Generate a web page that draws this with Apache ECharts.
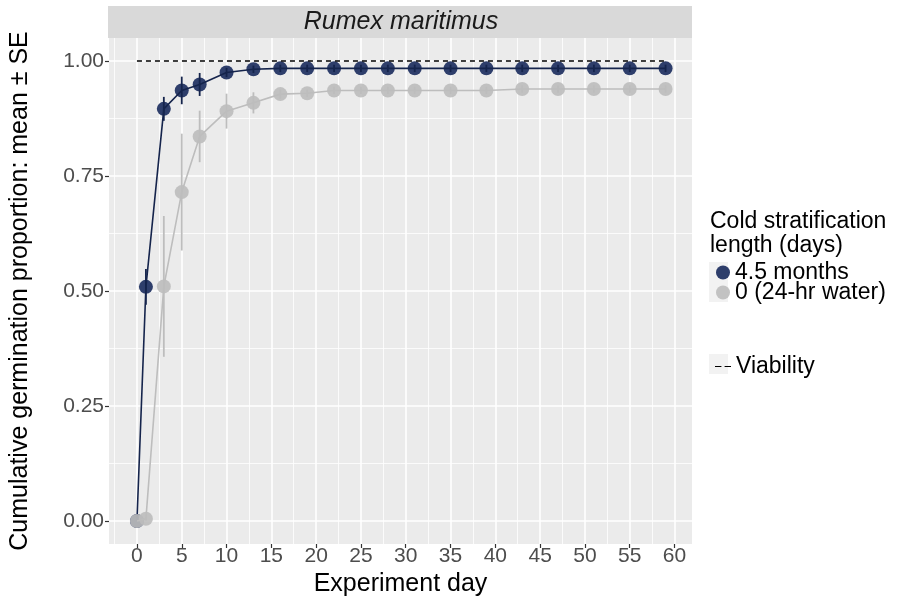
<!DOCTYPE html>
<html>
<head>
<meta charset="utf-8">
<script src="https://cdn.jsdelivr.net/npm/echarts@6/dist/echarts.min.js"></script>
<style>html,body{margin:0;padding:0;background:#fff}#c{width:904px;height:603px}</style>
</head>
<body>
<div id="c"></div>
<script>
// ---- data ----
const days      = [0, 1, 3, 5, 7, 10, 13, 16, 19, 22, 25, 28, 31, 35, 39, 43, 47, 51, 55, 59];
const coldMean  = [0, 0.509, 0.896, 0.936, 0.949, 0.975, 0.982, 0.984, 0.984, 0.984, 0.984, 0.984, 0.984, 0.984, 0.984, 0.984, 0.984, 0.984, 0.984, 0.984];
const coldSE    = [0, 0.039, 0.026, 0.030, 0.025, 0.010, 0.008, 0.008, 0.008, 0.008, 0.008, 0.008, 0.008, 0.008, 0.008, 0.008, 0.008, 0.008, 0.008, 0.008];
const waterMean = [0, 0.005, 0.510, 0.715, 0.836, 0.891, 0.909, 0.928, 0.930, 0.936, 0.936, 0.936, 0.936, 0.936, 0.936, 0.939, 0.939, 0.939, 0.939, 0.939];
const waterSE   = [0, 0.004, 0.153, 0.127, 0.056, 0.038, 0.023, 0.010, 0.008, 0.008, 0.008, 0.008, 0.008, 0.008, 0.008, 0.008, 0.008, 0.008, 0.008, 0.008];
const viabilityDays = [0, 59];
const viabilityVals = [1, 1];
const xTicks = [0, 5, 10, 15, 20, 25, 30, 35, 40, 45, 50, 55, 60];
const yTicks = [0, 0.25, 0.5, 0.75, 1.0];
const xMinor = [-2.5, 2.5, 7.5, 12.5, 17.5, 22.5, 27.5, 32.5, 37.5, 42.5, 47.5, 52.5, 57.5];
const yMinor = [0.125, 0.375, 0.625, 0.875];
const coldName = '4.5 months';
const waterName = '0 (24-hr water)';
const viabName = 'Viability';

const NAVY = '#1d2f5f', NAVY_D = '#15244c', GREY = '#bdbdbd';
const FONT = '"Liberation Sans", Arial, sans-serif';
const XMIN = -3.12, XMAX = 61.95, YMIN = -0.05, YMAX = 1.05;

const pts = (xs, ys) => xs.map((d, i) => [d, ys[i]]);
const errs = (m, s) => days.map((d, i) => [d, m[i] - s[i], m[i] + s[i]]);

function errRenderer(color) {
  return function (params, api) {
    const x = api.value(0);
    const p1 = api.coord([x, api.value(1)]);
    const p2 = api.coord([x, api.value(2)]);
    return { type: 'line', shape: { x1: p1[0], y1: p1[1], x2: p2[0], y2: p2[1] },
             style: { stroke: color, lineWidth: 1.8 } };
  };
}

const chart = echarts.init(document.getElementById('c'), null, { renderer: 'canvas' });
chart.setOption({
  animation: false,
  backgroundColor: '#ffffff',
  textStyle: { fontFamily: FONT },
  grid: { left: 108, right: 212, top: 38, bottom: 59, show: true, backgroundColor: '#ebebeb', borderWidth: 0 },
  graphic: [
    { type: 'rect', shape: { x: 108, y: 6, width: 584, height: 32 }, style: { fill: '#d9d9d9' }, silent: true },
    { type: 'text', x: 401, y: 22, style: { text: 'Rumex maritimus', fontFamily: FONT, fontStyle: 'italic', fontSize: 25, fill: '#1a1a1a', align: 'center', verticalAlign: 'middle' } },
    { type: 'text', x: 710, y: 210, style: { text: 'Cold stratification\nlength (days)', fontFamily: FONT, fontSize: 23, lineHeight: 24, fill: '#000', align: 'left', verticalAlign: 'top' } },
    { type: 'rect', shape: { x: 709, y: 262, width: 19, height: 40 }, style: { fill: '#f2f2f2' }, z: -1, silent: true },
    { type: 'rect', shape: { x: 709, y: 354, width: 19, height: 20 }, style: { fill: '#f2f2f2' }, z: -1, silent: true }
  ],
  legend: [
    { data: [coldName, waterName], orient: 'vertical', left: 711, top: 256, itemWidth: 14, itemHeight: 14, itemGap: -3, itemTextGap: 8,
      textStyle: { fontSize: 23, lineHeight: 20, color: '#000', fontFamily: FONT }, selectedMode: false },
    { data: [{ name: viabName, icon: 'path://M0,0h6v1h-6z M9,0h6v1h-6z', itemStyle: { color: '#000' } }],
      orient: 'vertical', left: 710, top: 350, itemWidth: 16, itemHeight: 1.4, itemTextGap: 7,
      textStyle: { fontSize: 23, lineHeight: 20, color: '#000', fontFamily: FONT }, selectedMode: false }
  ],
  xAxis: [
    { type: 'value', min: XMIN, max: XMAX, name: 'Experiment day', nameLocation: 'middle', nameGap: 28,
      nameTextStyle: { fontSize: 25, color: '#000', fontFamily: FONT },
      axisLine: { show: false, onZero: false },
      axisTick: { show: true, length: 4, lineStyle: { color: '#333', width: 1.2 }, customValues: xTicks },
      axisLabel: { customValues: xTicks, fontSize: 21, color: '#4d4d4d', margin: 2, fontFamily: FONT },
      splitLine: { show: true, lineStyle: { color: '#ffffff', width: 1.6 } } },
    { type: 'value', min: XMIN, max: XMAX, position: 'bottom',
      axisLine: { show: false, onZero: false }, axisTick: { show: false, customValues: xMinor },
      axisLabel: { show: false, customValues: xMinor },
      splitLine: { show: true, lineStyle: { color: '#ffffff', width: 0.8 } } }
  ],
  yAxis: [
    { type: 'value', min: YMIN, max: YMAX, name: 'Cumulative germination proportion: mean ± SE', nameLocation: 'middle', nameGap: 76,
      nameTextStyle: { fontSize: 25, color: '#000', fontFamily: FONT },
      axisLine: { show: false, onZero: false },
      axisTick: { show: true, length: 4, lineStyle: { color: '#333', width: 1.2 }, customValues: yTicks },
      axisLabel: { customValues: yTicks, fontSize: 21, color: '#4d4d4d', margin: 5, fontFamily: FONT, formatter: v => v.toFixed(2) },
      splitLine: { show: true, lineStyle: { color: '#ffffff', width: 1.6 } } },
    { type: 'value', min: YMIN, max: YMAX, position: 'left',
      axisLine: { show: false, onZero: false }, axisTick: { show: false, customValues: yMinor },
      axisLabel: { show: false, customValues: yMinor },
      splitLine: { show: true, lineStyle: { color: '#ffffff', width: 0.8 } } }
  ],
  series: [
    { name: coldName, type: 'scatter', data: pts(days, coldMean), symbol: 'circle', symbolSize: 14,
      itemStyle: { color: NAVY, opacity: 0.92 }, z: 3 },
    { name: coldName, type: 'line', data: pts(days, coldMean), showSymbol: false, symbol: 'none',
      lineStyle: { color: NAVY_D, width: 1.6 }, z: 4 },
    { name: coldName, type: 'custom', data: errs(coldMean, coldSE), renderItem: errRenderer(NAVY_D),
      encode: { x: 0, y: [1, 2] }, z: 4 },
    { name: waterName, type: 'scatter', data: pts(days, waterMean), symbol: 'circle', symbolSize: 14,
      itemStyle: { color: GREY, opacity: 0.9 }, z: 5 },
    { name: waterName, type: 'line', data: pts(days, waterMean), showSymbol: false, symbol: 'none',
      lineStyle: { color: GREY, width: 1.6 }, z: 5 },
    { name: waterName, type: 'custom', data: errs(waterMean, waterSE), renderItem: errRenderer(GREY),
      encode: { x: 0, y: [1, 2] }, z: 5 },
    { name: viabName, type: 'line', data: pts(viabilityDays, viabilityVals), symbol: 'none', showSymbol: false,
      lineStyle: { color: '#000', width: 1.4, type: [5, 4] }, itemStyle: { color: '#000' }, z: 6 }
  ]
});
</script>
</body>
</html>
